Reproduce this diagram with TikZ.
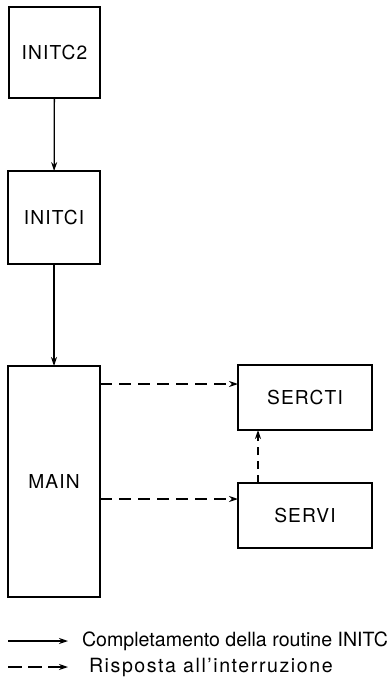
\documentclass[tikz,border=0pt]{standalone}
\usepackage{fontspec}
\setmainfont{TeX Gyre Heros}
\usetikzlibrary{arrows.meta}
\begin{document}
\begin{tikzpicture}[x=0.5pt,y=-0.5pt,>={Stealth[length=4.5pt,width=3pt]},
  every node/.style={font=\fontsize{9.8pt}{12pt}\selectfont,inner sep=0pt,outer sep=0pt},
  blk/.style={draw,line width=1pt,font=\fontsize{9.6pt}{12pt}\selectfont\addfontfeature{LetterSpace=6}},
  srv/.style={blk,minimum width=67pt,minimum height=32.5pt},
  flow/.style={->,line width=0.65pt},
  irq/.style={->,line width=0.65pt,dash pattern=on 6pt off 3.5pt}]
  \useasboundingbox (0,0) rectangle (388,680);
  \node[blk,minimum width=45.5pt,minimum height=45.5pt] (c2) at (54.5,52.5) {INITC2};
  \node[blk,minimum width=46pt,minimum height=46.5pt] (c1) at (54,217.5) {INITCI};
  \node[blk,minimum width=46pt,minimum height=115.5pt] (main) at (54,481.5) {MAIN};
  \node[srv] (sercti) at (305,397.5) {SERCTI};
  \node[srv] (servi) at (305,515.5) {SERVI};
  \draw[flow] (c2) -- (c1);
  \draw[flow] (c1) -- (main);
  \coordinate (h1) at (0,384);
  \coordinate (h2) at (0,499);
  \coordinate (v1) at (258,0);
  \draw[irq] (main.east |- h1) -- (sercti.west |- h1);
  \draw[irq] (main.east |- h2) -- (servi.west |- h2);
  \draw[irq,dash pattern=on 4pt off 3pt] (servi.north -| v1) -- (sercti.south -| v1);
  % legenda
  \coordinate (l1a) at (8,641);
  \coordinate (l1b) at (68,641);
  \coordinate (l2a) at (8,667);
  \coordinate (l2b) at (68,667);
  \draw[flow] (l1a) -- (l1b);
  \draw[irq,dash pattern=on 7pt off 3pt] (l2a) -- (l2b);
  \node[anchor=west] (t1) at (82,641) {Completamento della routine INITC};
  \node[anchor=west,font=\fontsize{9.8pt}{12pt}\selectfont\addfontfeature{LetterSpace=8}] (t2) at (89,667) {Risposta all'interruzione};
\end{tikzpicture}
\end{document}
